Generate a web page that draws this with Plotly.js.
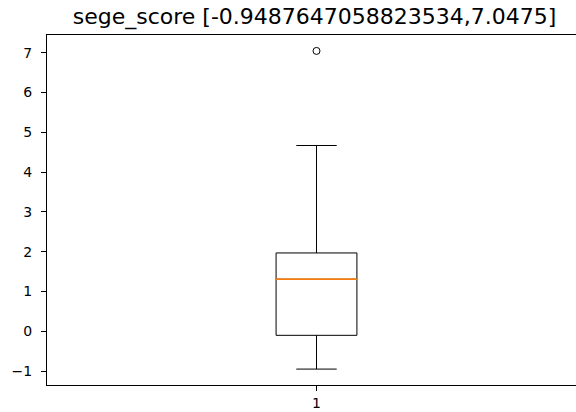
<!DOCTYPE html>
<html>
<head>
<meta charset="utf-8">
<script src="https://cdn.plot.ly/plotly-3.0.1.min.js"></script>
<style>html,body{margin:0;padding:0;background:#fff;}#chart{width:576px;height:412px;}</style>
</head>
<body>
<div id="chart"></div>
<script>
// Data
const positions = [1];
const lowerWhisker = [-0.9487647058823534];
const q1 = [-0.10];
const median = [1.31];
const q3 = [1.97];
const upperWhisker = [4.67];
const outliers = [7.0475];
const tickLabels = ['1'];
const titleText = 'sege_score [-0.9487647058823534,7.0475]';

const boxWidth = 0.15;
const FONT = 'DejaVu Sans, sans-serif';

const traces = [
  {
    type: 'box',
    x: positions,
    q1: q1, median: median, q3: q3,
    lowerfence: lowerWhisker, upperfence: upperWhisker,
    width: boxWidth,
    whiskerwidth: 0.5,
    line: {color: '#000000', width: 1},
    fillcolor: 'rgba(0,0,0,0)',
    boxpoints: false,
    hoverinfo: 'skip',
    showlegend: false
  },
  {
    type: 'box',
    x: positions,
    q1: median, median: median, q3: median,
    lowerfence: median, upperfence: median,
    width: boxWidth,
    whiskerwidth: 0,
    line: {color: '#ff7f0e', width: 1},
    fillcolor: 'rgba(0,0,0,0)',
    boxpoints: false,
    hoverinfo: 'skip',
    showlegend: false
  },
  {
    type: 'scatter',
    mode: 'markers',
    x: outliers.map(() => positions[0]),
    y: outliers,
    marker: {symbol: 'circle-open', size: 7, color: '#000000', line: {width: 1, color: '#000000'}},
    hoverinfo: 'skip',
    showlegend: false
  }
];

const layout = {
  width: 576, height: 412,
  margin: {l: 47, r: 0, t: 35, b: 27, pad: 0},
  paper_bgcolor: '#ffffff', plot_bgcolor: '#ffffff',
  font: {family: FONT, color: '#000000', size: 14},
  title: {
    text: titleText,
    font: {family: FONT, size: 22, color: '#000000'},
    xref: 'paper', x: 0.5 * 535 / 529, xanchor: 'center',
    yref: 'container', y: 1 - 16 / 412, yanchor: 'middle'
  },
  xaxis: {
    type: 'linear',
    range: [0.5, 0.5 + 529 / 539],
    tickvals: positions, ticktext: tickLabels,
    ticks: 'outside', ticklen: 5, tickwidth: 1, tickcolor: '#000000',
    showline: true, linecolor: '#000000', linewidth: 1, mirror: true,
    showgrid: false, zeroline: false,
    tickfont: {family: FONT, size: 14, color: '#000000'}
  },
  yaxis: {
    range: [-1.3486, 7.4473],
    tickvals: [-1, 0, 1, 2, 3, 4, 5, 6, 7],
    ticks: 'outside', ticklen: 5, tickwidth: 1, tickcolor: '#000000',
    ticklabelstandoff: 6,
    showline: true, linecolor: '#000000', linewidth: 1, mirror: false,
    showgrid: false, zeroline: false,
    tickfont: {family: FONT, size: 14, color: '#000000'}
  }
};

Plotly.newPlot('chart', traces, layout, {staticPlot: true, displayModeBar: false});
</script>
</body>
</html>
